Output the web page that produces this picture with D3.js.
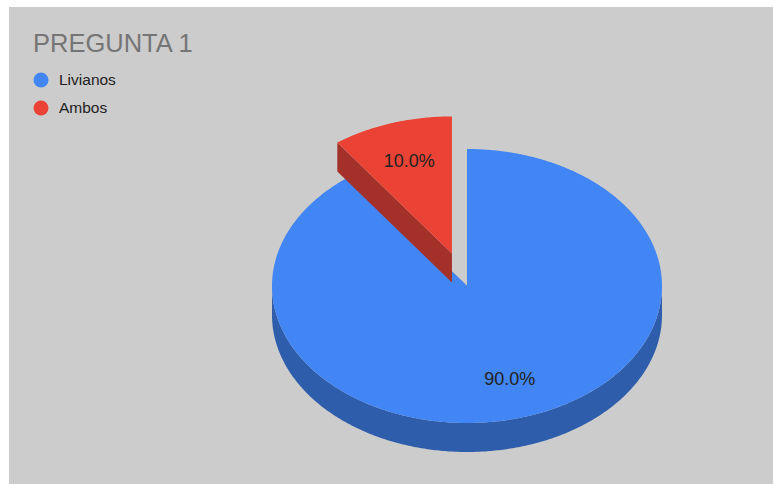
<!DOCTYPE html>
<html>
<head>
<meta charset="utf-8">
<script src="https://cdn.jsdelivr.net/npm/d3@7"></script>
<style>
  html, body { margin: 0; padding: 0; background: #ffffff; }
  svg { display: block; font-family: Arial, "Liberation Sans", sans-serif; }
</style>
</head>
<body>
<svg id="chart" width="774" height="484"></svg>
<script>
// Chart data
const title = "PREGUNTA 1";
const categories = ["Livianos", "Ambos"];
const values = [90, 10];
const topColors = ["#4285f4", "#ea4335"];
const sideColors = ["#2e5dab", "#a4302a"];
const explode = [0, 0.25];

const svg = d3.select("#chart");
const W = 774, H = 484;

// panel
svg.append("rect").attr("x", 9).attr("y", 7).attr("width", 764).attr("height", H - 7)
  .attr("fill", "#cccccc");

// title
svg.append("text").attr("x", 33).attr("y", 52).text(title)
  .attr("font-size", 25.5).attr("fill", "#757575");

// legend
const legend = svg.append("g").selectAll("g").data(categories).join("g")
  .attr("transform", (d, i) => `translate(0,${80 + i * 28})`);
legend.append("circle").attr("cx", 41).attr("cy", 0).attr("r", 7.5)
  .attr("fill", (d, i) => topColors[i]);
legend.append("text").attr("x", 59).attr("y", 0).attr("dy", "0.35em")
  .attr("font-size", 15.5).attr("fill", "#222222").text(d => d);

// 3D pie geometry
const cx = 467, cy = 286, rx = 195, ry = 137, depth = 29;
const total = d3.sum(values);
const pie = d3.pie().sort(null).startAngle(0).endAngle(2 * Math.PI);
const arcs = pie(values);

// projected point on the tilted disc (angle clockwise from top)
const proj = (ox, oy, a, r = 1, dz = 0) =>
  [ox + rx * r * Math.sin(a), oy - ry * r * Math.cos(a) + dz];

function arcPoints(ox, oy, a0, a1, dz = 0) {
  const n = Math.max(2, Math.ceil(Math.abs(a1 - a0) / 0.01));
  return d3.range(n + 1).map(k => proj(ox, oy, a0 + (a1 - a0) * k / n, 1, dz));
}

const line = d3.line();
const gPie = svg.append("g");

// slices further back are drawn first
const order = arcs.map((d, i) => i).sort((a, b) => {
  const ma = (arcs[a].startAngle + arcs[a].endAngle) / 2;
  const mb = (arcs[b].startAngle + arcs[b].endAngle) / 2;
  return Math.cos(mb) - Math.cos(ma);
}).reverse();

order.forEach(i => {
  const d = arcs[i];
  const mid = (d.startAngle + d.endAngle) / 2;
  const ox = cx + rx * explode[i] * Math.sin(mid);
  const oy = cy - ry * explode[i] * Math.cos(mid);
  const g = gPie.append("g");

  // cut faces
  [d.startAngle, d.endAngle].forEach(a => {
    const p = proj(ox, oy, a), pb = proj(ox, oy, a, 1, depth);
    g.append("path").attr("d", line([[ox, oy], p, pb, [ox, oy + depth]]) + "Z")
      .attr("fill", sideColors[i]);
  });

  // outer wall on the front half of the disc
  const lo = Math.max(d.startAngle, Math.PI / 2), hi = Math.min(d.endAngle, 3 * Math.PI / 2);
  if (hi > lo) {
    const topEdge = arcPoints(ox, oy, lo, hi, 0);
    const botEdge = arcPoints(ox, oy, hi, lo, depth);
    g.append("path").attr("d", line(topEdge.concat(botEdge)) + "Z").attr("fill", sideColors[i]);
  }

  // top face
  g.append("path")
    .attr("d", line([[ox, oy]].concat(arcPoints(ox, oy, d.startAngle, d.endAngle))) + "Z")
    .attr("fill", topColors[i]);

  // percentage label
  const lp = proj(ox, oy, mid, 0.71);
  g.append("text").attr("x", lp[0]).attr("y", lp[1]).attr("dy", "0.35em")
    .attr("text-anchor", "middle").attr("font-size", 18).attr("fill", "#222222")
    .text((d.value / total * 100).toFixed(1) + "%");
});
</script>
</body>
</html>
